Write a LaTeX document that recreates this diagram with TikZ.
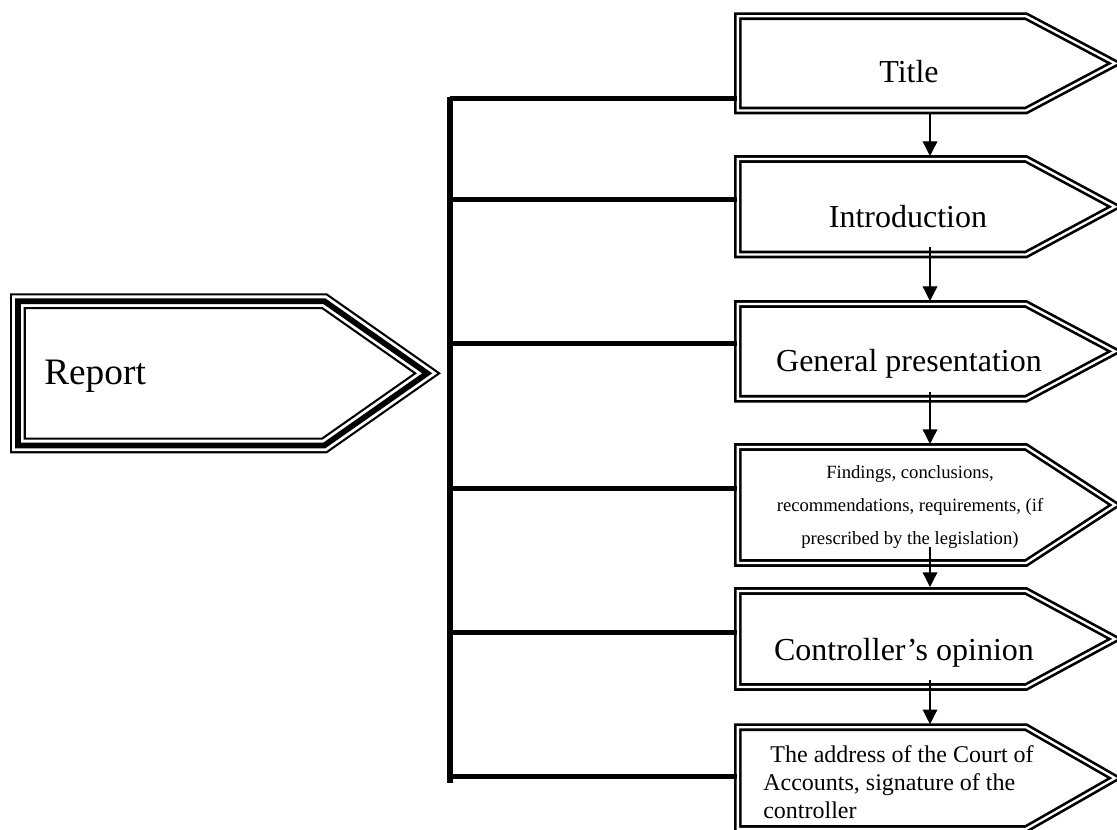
\documentclass[tikz,border=0pt]{standalone}
\usepackage{fontspec}
\setmainfont{Liberation Serif}
\usetikzlibrary{arrows.meta,calc,fit}
\tikzset{
  dbl/.style={draw=black, line width=2pt, double=white, double distance=1.75pt, line join=miter, fill=white},
  tri/.style={draw=black, line width=11.85pt, line join=miter, fill=white,
    postaction={draw=white, line width=8.55pt, line join=miter},
    postaction={draw=black, line width=4.3pt, line join=miter}},
  body/.style={inner sep=0pt, outer sep=0pt},
  bus/.style={line width=4pt},
  branch/.style={line width=3.75pt},
  arr/.style={line width=1pt, -{Triangle[length=11pt,width=11pt]}},
  big/.style={inner sep=0pt, font=\fontsize{24}{28}\selectfont, anchor=base},
}
\newcommand\sigbox[3]{%
  \node[body, fit={(737.9,#2) (1026,#3)}] (#1) {};
  \draw[dbl] (#1.north west) -- (#1.north east) -- ($(#1.east)+(89,0)$) -- (#1.south east) -- (#1.south west) -- cycle;
}
\begin{document}
\begin{tikzpicture}[x=0.75pt,y=-0.75pt]
\useasboundingbox (0,0) rectangle (1117,830);
\clip (0,0) rectangle (1117,830);

% Report shape
\node[body, fit={(17.9,301.2) (324.4,445.4)}] (rep) {};
\draw[tri] (rep.north west) -- (rep.north east) -- ($(rep.east)+(102.8,0)$) -- (rep.south east) -- (rep.south west) -- cycle;
\node[inner sep=0pt, anchor=base west, font=\fontsize{28}{32}\selectfont] (reptext) at (44,385) {Report};

% right boxes
\sigbox{b1}{16.2}{110.5}
\sigbox{b2}{159}{254.5}
\sigbox{b3}{304}{398.8}
\sigbox{b4}{447}{563}
\sigbox{b5}{591}{687}
\sigbox{b6}{727.2}{829}

% bus
\coordinate (bustop) at (450,97);
\coordinate (busbot) at (450,783);
\draw[bus] (bustop) -- (busbot);
\coordinate (h1) at (450,99);
\coordinate (h2) at (450,200);
\coordinate (h3) at (450,344);
\coordinate (h4) at (450,488);
\coordinate (h5) at (450,632);
\coordinate (h6) at (450,776);
\foreach \i in {1,...,6}{
  \draw[branch] (h\i) -- ($(b\i.west |- h\i)+(-1,0)$);
}

% arrows
\coordinate (ax) at (930,0);
\draw[arr] ($(b1.south -| ax)+(0,1.5)$) -- ($(b2.north -| ax)+(0,-3)$);
\draw[arr] ($(b2.south -| ax)+(0,-7.5)$) -- ($(b3.north -| ax)+(0,-3)$);
\draw[arr] ($(b3.south -| ax)+(0,-7)$) -- ($(b4.north -| ax)+(0,-3)$);
\draw[arr] ($(b4.south -| ax)+(0,-16)$) -- ($(b5.north -| ax)+(0,-4)$);
\draw[arr] ($(b5.south -| ax)+(0,-7)$) -- ($(b6.north -| ax)+(0,-3)$);

% texts
\node[big] (t1) at (909,82.7) {Title};
\node[big] (t2) at (908,228) {Introduction};
\node[big] (t3) at (909,372) {General presentation};
\node[inner sep=0pt, anchor=base, font=\fontsize{14}{24.75}\selectfont] (t4) at (910,478)
  {\begin{tabular}[t]{@{}c@{}}Findings, conclusions,\\ recommendations, requirements, (if\\ prescribed by the legislation)\end{tabular}};
\node[big] (t5) at (904,660.7) {Controller’s opinion};
\node[inner sep=0pt, anchor=base west, font=\fontsize{18}{21}\selectfont] (t6) at (763,762)
  {\begin{tabular}[t]{@{}l@{}}\hspace*{0.3em}The address of the Court of\\ Accounts, signature of the\\ controller\end{tabular}};
\end{tikzpicture}
\end{document}
